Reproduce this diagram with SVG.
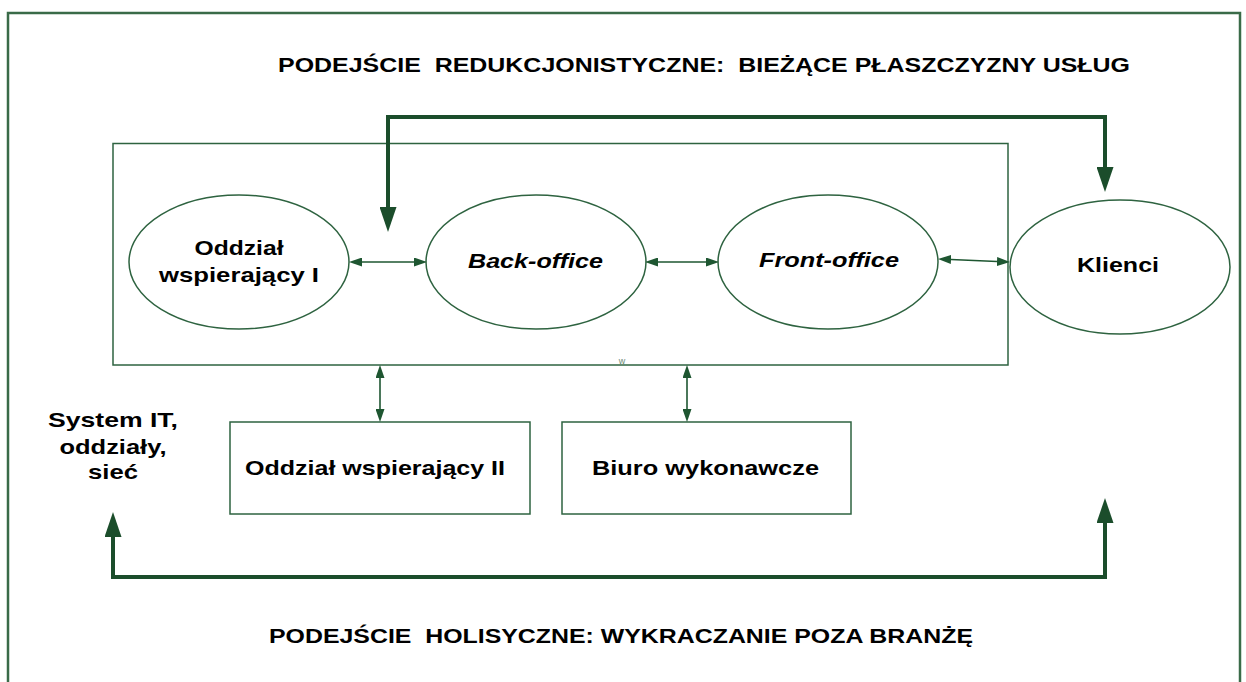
<svg xmlns="http://www.w3.org/2000/svg" width="1246" height="682" viewBox="0 0 1246 682">
<style>
.t{font-family:"Liberation Sans",Arial,Helvetica,sans-serif;font-weight:bold;font-size:21px;fill:#000;white-space:pre;}
.i{font-style:italic;}
.shape{fill:#fff;stroke:#2e6340;stroke-width:1.5;}
.thin{fill:none;stroke:#1e5631;stroke-width:1.6;}
.thick{fill:none;stroke:#1b4d2b;stroke-width:4;stroke-linejoin:miter;}
</style>
<defs>
<marker id="sa" viewBox="0 0 13 9" refX="0" refY="4.5" markerWidth="13" markerHeight="9" markerUnits="userSpaceOnUse" orient="auto-start-reverse"><path d="M0,0 L13,4.5 L0,9 z" fill="#1e5631"/></marker>
<marker id="ba" viewBox="0 0 25 17" refX="0" refY="8.5" markerWidth="25" markerHeight="17" markerUnits="userSpaceOnUse" orient="auto-start-reverse"><path d="M0,0 L25,8.5 L0,17 z" fill="#1b4d2b"/></marker>
</defs>
<rect x="8" y="13" width="1232" height="690" fill="#fff" stroke="#3a6b48" stroke-width="2.5"/>
<text class="t" x="278" y="72" textLength="852" lengthAdjust="spacingAndGlyphs">PODEJŚCIE  REDUKCJONISTYCZNE:  BIEŻĄCE PŁASZCZYZNY USŁUG</text>
<text class="t" x="269" y="643" textLength="704" lengthAdjust="spacingAndGlyphs">PODEJŚCIE  HOLISYCZNE: WYKRACZANIE POZA BRANŻĘ</text>
<g id="container">
<rect class="shape" x="113" y="143.5" width="895" height="221.5"/>
<text x="622" y="364" font-family="Liberation Sans, Arial, sans-serif" font-size="9" fill="#6d8a76" text-anchor="middle">w</text>
</g>
<g id="oddzial1">
<ellipse class="shape" cx="239" cy="262" rx="110" ry="67"/>
<text class="t" x="239" y="255" text-anchor="middle" textLength="89" lengthAdjust="spacingAndGlyphs">Oddział</text>
<text class="t" x="239" y="282" text-anchor="middle" textLength="160" lengthAdjust="spacingAndGlyphs">wspierający I</text>
</g>
<g id="backoffice">
<ellipse class="shape" cx="536" cy="262" rx="110" ry="67"/>
<text class="t i" x="535.5" y="268" text-anchor="middle" textLength="135" lengthAdjust="spacingAndGlyphs">Back-office</text>
</g>
<g id="frontoffice">
<ellipse class="shape" cx="828" cy="262" rx="110" ry="67"/>
<text class="t i" x="829" y="267" text-anchor="middle" textLength="140" lengthAdjust="spacingAndGlyphs">Front-office</text>
</g>
<g id="klienci">
<ellipse class="shape" cx="1120" cy="267" rx="110" ry="67"/>
<text class="t" x="1118" y="272" text-anchor="middle" textLength="82" lengthAdjust="spacingAndGlyphs">Klienci</text>
</g>
<g id="oddzial2">
<rect class="shape" x="230" y="422" width="300" height="92"/>
<text class="t" x="375" y="475" text-anchor="middle" textLength="260" lengthAdjust="spacingAndGlyphs">Oddział wspierający II</text>
</g>
<g id="biuro">
<rect class="shape" x="562" y="422" width="289" height="92"/>
<text class="t" x="705.5" y="475" text-anchor="middle" textLength="227" lengthAdjust="spacingAndGlyphs">Biuro wykonawcze</text>
</g>
<g id="system">
<text class="t" x="113" y="427" text-anchor="middle" textLength="130" lengthAdjust="spacingAndGlyphs">System IT,</text>
<text class="t" x="113" y="454" text-anchor="middle" textLength="107" lengthAdjust="spacingAndGlyphs">oddziały,</text>
<text class="t" x="113" y="479" text-anchor="middle" textLength="50" lengthAdjust="spacingAndGlyphs">sieć</text>
</g>
<g id="connectors">
<path class="thick" d="M388,207 V117 H1105 V167" marker-start="url(#ba)" marker-end="url(#ba)"/>
<path class="thick" d="M113,537 V577 H1105 V523" marker-start="url(#ba)" marker-end="url(#ba)"/>
<path class="thin" d="M362,262 H414" marker-start="url(#sa)" marker-end="url(#sa)"/>
<path class="thin" d="M658,262 H706" marker-start="url(#sa)" marker-end="url(#sa)"/>
<path class="thin" d="M951,259.5 L997,261.5" marker-start="url(#sa)" marker-end="url(#sa)"/>
<path class="thin" d="M380,378 V409" marker-start="url(#sa)" marker-end="url(#sa)"/>
<path class="thin" d="M687,378 V409" marker-start="url(#sa)" marker-end="url(#sa)"/>
</g>
</svg>
